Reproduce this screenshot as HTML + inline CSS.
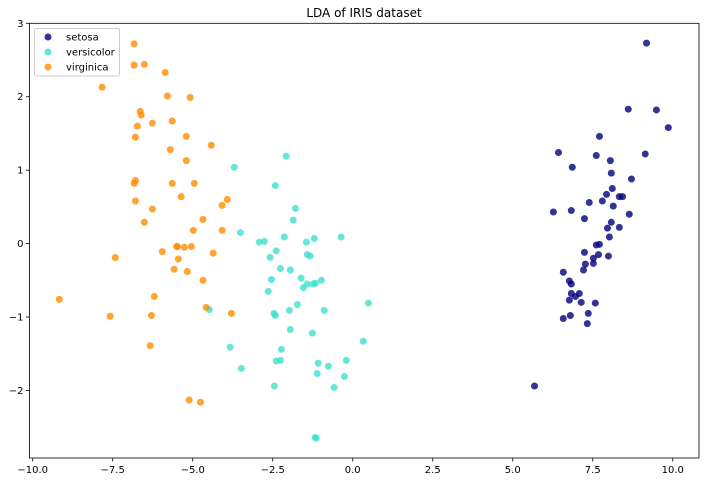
<!DOCTYPE html>
<html><head><meta charset="utf-8"><style>
html,body{margin:0;padding:0;background:#fff;}
svg{display:block;font-family:"DejaVu Sans","Liberation Sans",sans-serif;}
</style></head><body>
<svg id="chart" width="705" height="482" viewBox="0 0 705 482" xmlns="http://www.w3.org/2000/svg">
<text x="364" y="17" text-anchor="middle" font-size="12" fill="#000">LDA of IRIS dataset</text>
<g id="marks"></g>
<g id="axes"></g>
<g>
<rect x="34.5" y="28.5" width="85" height="47.5" rx="2" fill="#fff" fill-opacity="0.8" stroke="#ccc" stroke-width="1"/>
<circle cx="48" cy="37" r="3.5" fill="#000080" fill-opacity="0.8"/>
<text x="66" y="40.5" font-size="10">setosa</text>
<circle cx="48" cy="52" r="3.5" fill="#40E0D0" fill-opacity="0.8"/>
<text x="66" y="55.5" font-size="10">versicolor</text>
<circle cx="48" cy="67" r="3.5" fill="#FF8C00" fill-opacity="0.8"/>
<text x="66" y="70.5" font-size="10">virginica</text>
</g>
</svg>
<script>
const setosaX=[9.18,8.61,9.49,9.86,7.71,6.43,7.61,8.05,9.14,6.86,8.08,8.71,8.11,7.93,8.33,8.43,7.39,7.80,8.14,6.27,6.83,8.64,7.24,8.08,7.96,8.33,8.02,7.61,7.71,7.24,7.68,7.99,7.52,7.27,7.52,7.21,6.58,6.77,6.83,6.83,7.08,6.96,6.77,7.14,7.58,7.36,6.80,6.58,7.33,5.68];
const setosaY=[2.73,1.83,1.82,1.58,1.46,1.24,1.20,1.13,1.22,1.04,0.96,0.88,0.75,0.67,0.64,0.64,0.56,0.58,0.51,0.43,0.45,0.40,0.34,0.29,0.21,0.22,0.09,-0.02,-0.01,-0.12,-0.15,-0.17,-0.20,-0.28,-0.27,-0.36,-0.39,-0.51,-0.55,-0.68,-0.68,-0.72,-0.77,-0.80,-0.81,-0.95,-0.98,-1.02,-1.09,-1.94];
const versicolorX=[-2.08,-3.70,-2.42,-1.79,-1.86,-3.51,-2.92,-2.76,-2.14,-1.45,-1.20,-0.36,-2.39,-2.58,-1.42,-1.33,-2.26,-1.95,-2.54,-1.61,-2.64,-1.54,-1.42,-1.23,-1.17,-0.98,-1.73,0.49,-4.48,-2.46,-2.42,-1.98,-0.89,-1.95,-1.26,0.33,-3.83,-2.23,-2.39,-2.26,-3.48,-1.08,-0.76,-0.20,-1.11,-0.26,-2.45,-0.58,-1.17,-1.14];
const versicolorY=[1.19,1.04,0.79,0.48,0.32,0.15,0.02,0.03,0.09,0.02,0.07,0.09,-0.10,-0.19,-0.15,-0.17,-0.34,-0.36,-0.49,-0.47,-0.65,-0.60,-0.55,-0.55,-0.54,-0.50,-0.83,-0.81,-0.90,-0.95,-0.98,-0.91,-0.91,-1.17,-1.22,-1.33,-1.41,-1.44,-1.60,-1.59,-1.70,-1.63,-1.67,-1.59,-1.77,-1.81,-1.94,-1.96,-2.64,-2.65];
const virginicaX=[-6.83,-6.83,-6.51,-5.86,-7.83,-5.79,-5.08,-6.64,-6.61,-6.26,-5.64,-6.73,-6.79,-5.20,-4.42,-5.70,-5.20,-6.83,-6.79,-5.64,-4.95,-5.36,-6.79,-3.92,-4.08,-6.26,-4.68,-6.51,-4.98,-4.08,-5.95,-5.48,-5.50,-5.26,-5.04,-7.42,-4.36,-5.45,-5.58,-5.17,-4.68,-9.17,-6.20,-4.58,-3.79,-7.58,-6.29,-6.33,-5.11,-4.76];
const virginicaY=[2.72,2.43,2.44,2.33,2.13,2.01,1.99,1.80,1.75,1.64,1.67,1.60,1.45,1.46,1.34,1.28,1.13,0.82,0.86,0.82,0.82,0.64,0.58,0.60,0.52,0.47,0.33,0.29,0.18,0.18,-0.11,-0.04,-0.04,-0.05,-0.04,-0.19,-0.13,-0.21,-0.35,-0.38,-0.50,-0.76,-0.72,-0.87,-0.95,-0.99,-0.98,-1.39,-2.13,-2.16];
const xTicks=[-10,-7.5,-5,-2.5,0,2.5,5,7.5,10];
const xTickLabels=["−10.0","−7.5","−5.0","−2.5","0.0","2.5","5.0","7.5","10.0"];
const yTicks=[-2,-1,0,1,2,3];
const yTickLabels=["−2","−1","0","1","2","3"];

const L=29.5,R=699,T=23.3,B=458;
const xMin=-10.1,xMax=10.82,yMin=-2.92,yMax=3.0;
function sx(v){return L+(v-xMin)/(xMax-xMin)*(R-L);}
function sy(v){return B-(v-yMin)/(yMax-yMin)*(B-T);}
const NS="http://www.w3.org/2000/svg";
const marks=document.getElementById('marks');
const axes=document.getElementById('axes');
function series(xs,ys,color,name){
  const g=document.createElementNS(NS,'g');
  
  
  for(let i=0;i<xs.length;i++){
    const c=document.createElementNS(NS,'circle');
    c.setAttribute('cx',sx(xs[i]));c.setAttribute('cy',sy(ys[i]));
    c.setAttribute('r',3.5);c.setAttribute('fill',color);c.setAttribute('fill-opacity',0.8);
    
    
    g.appendChild(c);
  }
  marks.appendChild(g);
}
series(setosaX,setosaY,'#000080','setosa');
series(versicolorX,versicolorY,'#40E0D0','versicolor');
series(virginicaX,virginicaY,'#FF8C00','virginica');

const frame=document.createElementNS(NS,'rect');
frame.setAttribute('x',L);frame.setAttribute('y',T);frame.setAttribute('width',R-L);frame.setAttribute('height',B-T);
frame.setAttribute('fill','none');frame.setAttribute('stroke','#000');frame.setAttribute('stroke-width','0.8');


axes.appendChild(frame);
xTicks.forEach((v,i)=>{
  const x=sx(v);
  const l=document.createElementNS(NS,'line');
  l.setAttribute('x1',x);l.setAttribute('x2',x);l.setAttribute('y1',B);l.setAttribute('y2',B+3.5);
  l.setAttribute('stroke','#000');l.setAttribute('stroke-width','0.8');
  
  
  axes.appendChild(l);
  const t=document.createElementNS(NS,'text');
  t.setAttribute('x',x);t.setAttribute('y',B+15);t.setAttribute('text-anchor','middle');t.setAttribute('font-size','10');
  t.textContent=xTickLabels[i];
  
  
  axes.appendChild(t);
});
yTicks.forEach((v,i)=>{
  const y=sy(v);
  const l=document.createElementNS(NS,'line');
  l.setAttribute('x1',L-3.5);l.setAttribute('x2',L);l.setAttribute('y1',y);l.setAttribute('y2',y);
  l.setAttribute('stroke','#000');l.setAttribute('stroke-width','0.8');
  
  
  axes.appendChild(l);
  const t=document.createElementNS(NS,'text');
  t.setAttribute('x',L-6);t.setAttribute('y',y+3.5);t.setAttribute('text-anchor','end');t.setAttribute('font-size','10');
  t.textContent=yTickLabels[i];
  
  
  axes.appendChild(t);
});
</script>
</body></html>
